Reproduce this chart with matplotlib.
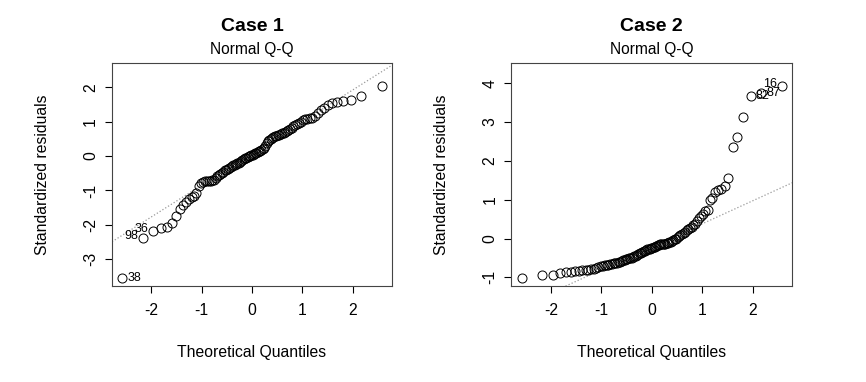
import matplotlib
matplotlib.use("Agg")
import matplotlib.pyplot as plt
import numpy as np
from statistics import NormalDist

plt.rcParams['font.family'] = ['Liberation Sans', 'DejaVu Sans']

# sorted standardized residuals
case1_resid = [-3.54, -2.39, -2.17, -2.10, -2.06, -1.95, -1.74, -1.53, -1.42, -1.33,
               -1.24, -1.20, -1.16, -1.08, -0.88, -0.79, -0.75, -0.74, -0.73, -0.72,
               -0.72, -0.71, -0.69, -0.63, -0.57, -0.54, -0.51, -0.48, -0.45, -0.42,
               -0.40, -0.37, -0.34, -0.31, -0.29, -0.27, -0.25, -0.23, -0.21, -0.19,
               -0.17, -0.14, -0.12, -0.10, -0.07, -0.05, -0.03, -0.01, 0.01, 0.02,
               0.04, 0.06, 0.08, 0.10, 0.12, 0.14, 0.16, 0.18, 0.20, 0.23,
               0.29, 0.37, 0.43, 0.48, 0.51, 0.53, 0.55, 0.57, 0.58, 0.60,
               0.62, 0.64, 0.66, 0.68, 0.69, 0.72, 0.76, 0.80, 0.83, 0.86,
               0.89, 0.92, 0.96, 1.00, 1.04, 1.07, 1.09, 1.10, 1.12, 1.16,
               1.24, 1.33, 1.39, 1.48, 1.54, 1.57, 1.61, 1.64, 1.76, 2.04]

case2_resid = [-1.01, -0.94, -0.93, -0.89, -0.86, -0.85, -0.84, -0.83, -0.82, -0.81,
               -0.80, -0.79, -0.78, -0.76, -0.74, -0.72, -0.71, -0.69, -0.68, -0.67,
               -0.66, -0.65, -0.64, -0.63, -0.62, -0.61, -0.60, -0.57, -0.55, -0.54,
               -0.53, -0.52, -0.51, -0.50, -0.49, -0.47, -0.46, -0.44, -0.42, -0.40,
               -0.38, -0.37, -0.35, -0.33, -0.31, -0.29, -0.28, -0.27, -0.26, -0.25,
               -0.24, -0.22, -0.21, -0.19, -0.17, -0.16, -0.15, -0.14, -0.14, -0.13,
               -0.13, -0.12, -0.11, -0.10, -0.08, -0.06, -0.04, -0.02, -0.01, 0.03,
               0.06, 0.09, 0.12, 0.15, 0.18, 0.21, 0.24, 0.27, 0.30, 0.34,
               0.38, 0.44, 0.52, 0.58, 0.64, 0.70, 0.74, 0.99, 1.05, 1.21,
               1.24, 1.27, 1.36, 1.55, 2.36, 2.62, 3.13, 3.66, 3.76, 3.93]

# labelled observations: (rank in sorted order, id, side)
case1_ids = [(0, "38", "right"), (1, "98", "left"), (2, "36", "left")]
case2_ids = [(99, "16", "left"), (98, "87", "right"), (97, "82", "right")]

titles = ["Case 1", "Case 2"]


def qq_panel(ax, resid, ids, title):
    y = np.array(resid)
    n = len(y)
    # theoretical quantiles, like R's qnorm(ppoints(n))
    nd = NormalDist()
    x = np.array([nd.inv_cdf((i + 0.5) / n) for i in range(n)])

    ax.plot(x, y, 'o', mfc='none', mec='black', ms=6.5, mew=0.7, zorder=3)

    # qqline through the quartiles
    q1, q3 = np.percentile(y, [25, 75])
    x1, x3 = nd.inv_cdf(0.25), nd.inv_cdf(0.75)
    slope = (q3 - q1) / (x3 - x1)
    inter = q1 - slope * x1

    lo, hi = y.min(), y.max()
    hi = hi + 0.075 * (hi - lo)   # room for labels, as plot.lm does
    pad = 0.04 * (hi - lo)
    ax.set_ylim(lo - pad, hi + pad)
    xpad = 0.04 * (x.max() - x.min())
    ax.set_xlim(x.min() - xpad, x.max() + xpad)

    xx = np.array(ax.get_xlim())
    ax.plot(xx, inter + slope * xx, ls=':', color='#999999', lw=0.9, zorder=2)

    for k, lab, side in ids:
        if side == "right":
            ax.annotate(lab, (x[k], y[k]), xytext=(3.5, 0), textcoords='offset points',
                        ha='left', va='center', fontsize=9)
        else:
            ax.annotate(lab, (x[k], y[k]), xytext=(-3.5, 1.5), textcoords='offset points',
                        ha='right', va='center', fontsize=9)

    ax.set_xticks([-2, -1, 0, 1, 2])
    ax.set_xticklabels(["-2", "-1", "0", "1", "2"])
    yt = np.arange(np.ceil(lo), np.floor(hi) + 1)
    ax.set_yticks(yt)
    ax.set_yticklabels([str(int(v)) for v in yt])
    ax.tick_params(axis='both', direction='out', length=5, width=0.8, labelsize=11.3)
    ax.tick_params(axis='x', pad=7)
    ax.tick_params(axis='y', pad=5, labelrotation=90)
    for t in ax.get_yticklabels():
        t.set_va('center')
    for s in ax.spines.values():
        s.set_color('#444444')
        s.set_linewidth(0.8)

    ax.set_xlabel("Theoretical Quantiles", fontsize=11.3)
    ax.set_ylabel("Standardized residuals", fontsize=11.3)
    ax.xaxis.set_label_coords(0.5, -0.265)
    ax.yaxis.set_label_coords(-0.22, 0.5)

    ax.text(0.5, 1.167, title, transform=ax.transAxes, ha='center', va='center',
            fontsize=14, fontweight='bold')
    ax.text(0.5, 1.06, "Normal Q-Q", transform=ax.transAxes, ha='center', va='center',
            fontsize=11.2)


fig = plt.figure(figsize=(8.66, 3.82), dpi=100)
ax1 = fig.add_axes([0.1293, 0.2513, 0.3233, 0.583])
ax2 = fig.add_axes([0.5904, 0.2513, 0.3245, 0.583])

qq_panel(ax1, case1_resid, case1_ids, titles[0])
qq_panel(ax2, case2_resid, case2_ids, titles[1])

plt.savefig("out.png", dpi=100)
